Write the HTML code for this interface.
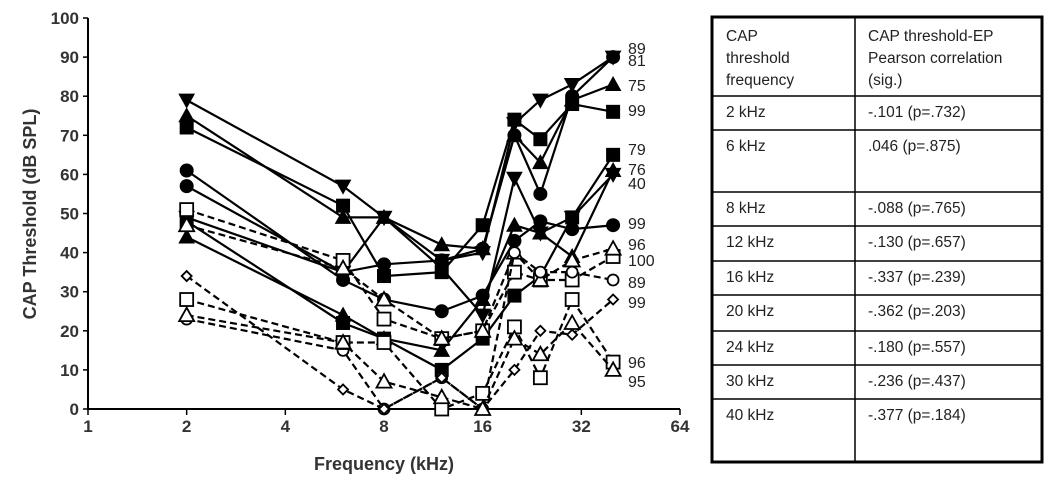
<!DOCTYPE html>
<html><head><meta charset="utf-8"><style>
html,body{margin:0;padding:0;background:#fff;}
svg{display:block;font-family:"Liberation Sans",Arial,sans-serif;}
</style></head><body>
<svg id="chart" width="1050" height="481" viewBox="0 0 1050 481">
<g id="axes"></g>
<g id="series"></g>
<g id="table"></g>
</svg>
<script>
const freqs = [2, 6, 8, 12, 16, 20, 24, 30, 40];
const xTicks = [1, 2, 4, 8, 16, 32, 64];
const yTicks = [0, 10, 20, 30, 40, 50, 60, 70, 80, 90, 100];
const s1 = [79, 57, 49, 38, 40, 73, 79, 83, 90];
const s2 = [72, 52, 34, 35, 47, 74, 69, 78, 76];
const s3 = [75, 49, 49, 42, 41, 70, 63, 79, 83];
const s4 = [57, 35, 37, 38, 41, 70, 55, 80, 90];
const s5 = [61, 33, 28, 25, 29, 43, 48, 46, 47];
const s6 = [49, 35, 49, 36, 24, 59, 45, 49, 60];
const s7 = [48, 22, 18, 10, 18, 29, 34, 49, 65];
const s8 = [44, 24, 18, 15, 28, 47, 45, 39, 61];
const s9 = [51, 38, 23, 18, 20, 35, 33, 33, 39];
const s10 = [47, 36, 28, 18, 20, 40, 33, 38, 41];
const s11 = [23, 15, 0, 8, 0, 40, 35, 35, 33];
const s12 = [34, 5, 0, 8, 0, 10, 20, 19, 28];
const s13 = [28, 17, 17, 0, 4, 21, 8, 28, 12];
const s14 = [24, 17, 7, 3, 0, 18, 14, 22, 10];
const seriesList = [s1, s2, s3, s4, s5, s6, s7, s8, s9, s10, s11, s12, s13, s14];
const markers = ["tridown","square","tri","circle","circle","tridown","square","tri","square","tri","circle","diamond","square","tri"];
const filled = [1,1,1,1,1,1,1,1,0,0,0,0,0,0];
const endLabels = ["89","99","75","81","99","40","79","76","100","96","89","99","96","95"];
const labelYs = [92.3, 76.5, 82.9, 89.3, 47.6, 57.8, 66.5, 61.4, 38.1, 42.2, 32.5, 27.4, 12, 7.2];
const rowLabels = ["2 kHz","6 kHz","8 kHz","12 kHz","16 kHz","20 kHz","24 kHz","30 kHz","40 kHz"];
const rowValues = ["-.101 (p=.732)",".046 (p=.875)","-.088 (p=.765)","-.130 (p=.657)","-.337 (p=.239)","-.362 (p=.203)","-.180 (p=.557)","-.236 (p=.437)","-.377 (p=.184)"];

const NS="http://www.w3.org/2000/svg";
const X0=88, X1=680, Y0=409, Y1=18;
function xs(f){return X0+(X1-X0)*Math.log2(f)/6;}
function ys(v){return Y0-(Y0-Y1)*v/100;}
function mk(tag,attrs,parent,text){const e=document.createElementNS(NS,tag);for(const k in attrs)e.setAttribute(k,attrs[k]);if(text!==undefined)e.textContent=text;parent.appendChild(e);return e;}

const axes=document.getElementById('axes');
let e;
e=mk('line',{x1:X0,y1:Y1,x2:X0,y2:Y0+1,stroke:'#000','stroke-width':2},axes);


e=mk('line',{x1:X0-1,y1:Y0,x2:X1,y2:Y0,stroke:'#000','stroke-width':2},axes);


yTicks.forEach(v=>{
  mk('line',{x1:X0-5,y1:ys(v),x2:X0,y2:ys(v),stroke:'#000','stroke-width':1.5},axes);
  e=mk('text',{x:X0-9,y:ys(v)+6,'text-anchor':'end','font-size':17,'font-weight':'bold',fill:'#333'},axes,String(v));
  
  
});
xTicks.forEach(f=>{
  mk('line',{x1:xs(f),y1:Y0,x2:xs(f),y2:Y0+6,stroke:'#000','stroke-width':1.5},axes);
  e=mk('text',{x:xs(f),y:Y0+23,'text-anchor':'middle','font-size':17,'font-weight':'bold',fill:'#333'},axes,String(f));
  
  
});
e=mk('text',{x:384,y:470,'text-anchor':'middle','font-size':18,'font-weight':'bold',fill:'#333'},axes,'Frequency (kHz)');


e=mk('text',{x:0,y:0,'text-anchor':'middle','font-size':18,'font-weight':'bold',fill:'#333',transform:'translate(36,214) rotate(-90)'},axes,'CAP Threshold (dB SPL)');



const sg=document.getElementById('series');
function marker(type,x,y,fill,g){
  const st={fill:fill?'#000':'#fff',stroke:'#000','stroke-width':fill?1:1.8};
  let m;
  if(type==='square')m=mk('rect',Object.assign({x:x-6.5,y:y-6.5,width:13,height:13},st),g);
  else if(type==='circle')m=mk('circle',Object.assign({cx:x,cy:y,r:fill?6.5:5.5},st),g);
  else if(type==='tri')m=mk('polygon',Object.assign({points:`${x},${y-7.5} ${x-7.5},${y+6} ${x+7.5},${y+6}`},st),g);
  else if(type==='tridown')m=mk('polygon',Object.assign({points:`${x},${y+7.5} ${x-7.5},${y-6} ${x+7.5},${y-6}`},st),g);
  else m=mk('polygon',Object.assign({points:`${x},${y-5} ${x+5},${y} ${x},${y+5} ${x-5},${y}`},st),g);
  return m;
}
seriesList.forEach((vals,i)=>{
  const g=mk('g',{},sg);
  
  
  const pts=vals.map((v,j)=>xs(freqs[j])+','+ys(v)).join(' ');
  const pl=mk('polyline',{points:pts,fill:'none',stroke:'#000','stroke-width':2.2,'stroke-dasharray':filled[i]?'none':'7,4'},g);
  
  
  vals.forEach((v,j)=>{
    const m=marker(markers[i],xs(freqs[j]),ys(v),filled[i],g);
    
    
  });
  const t=mk('text',{x:628,y:ys(labelYs[i])+6,'font-size':16,fill:'#222'},g,endLabels[i]);
  
  
});

const tb=document.getElementById('table');
const TL=712,TR=1042,TT=17,TB=462,CX=855;
const rowLines=[96,130,192,226,261,295,331,365,399];
e=mk('rect',{x:TL,y:TT,width:TR-TL,height:TB-TT,fill:'none',stroke:'#000','stroke-width':3},tb);


mk('line',{x1:CX,y1:TT,x2:CX,y2:TB,stroke:'#000','stroke-width':1.5},tb);
rowLines.forEach(y=>mk('line',{x1:TL,y1:y,x2:TR,y2:y,stroke:'#000','stroke-width':1.5},tb));
const hdrA=["CAP","threshold","frequency"], hdrB=["CAP threshold-EP","Pearson correlation","(sig.)"];
hdrA.forEach((s,k)=>{e=mk('text',{x:726,y:41+k*22,'font-size':15.5,fill:'#222'},tb,s);});
hdrB.forEach((s,k)=>{e=mk('text',{x:868,y:41+k*22,'font-size':15.5,fill:'#222'},tb,s);});
rowLabels.forEach((s,k)=>{
  const y=rowLines[k]+21;
  e=mk('text',{x:726,y:y,'font-size':15.5,fill:'#222'},tb,s);
  
  
  e=mk('text',{x:868,y:y,'font-size':15.5,fill:'#222'},tb,rowValues[k]);
  
  
});
</script>
</body></html>
